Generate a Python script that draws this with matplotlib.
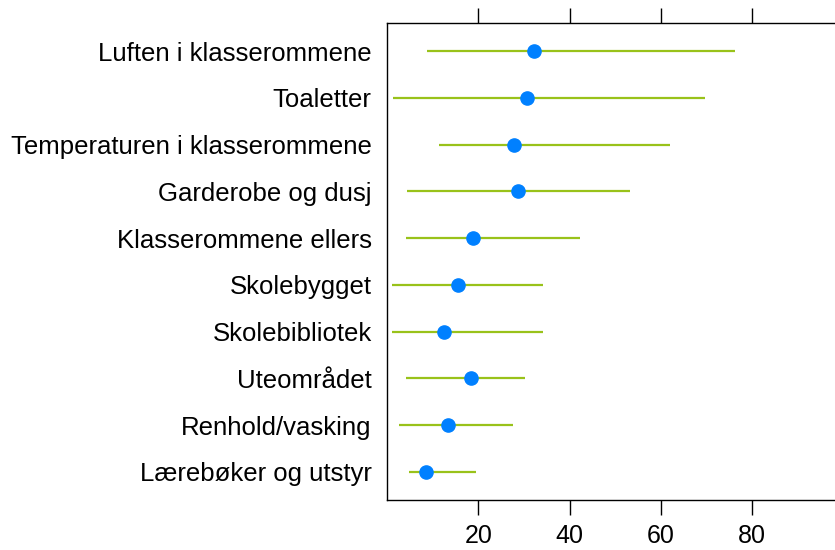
import matplotlib
matplotlib.use("Agg")
import matplotlib.pyplot as plt

# rekkefølge ovenfra og ned
labels = [
    "Luften i klasserommene",
    "Toaletter",
    "Temperaturen i klasserommene",
    "Garderobe og dusj",
    "Klasserommene ellers",
    "Skolebygget",
    "Skolebibliotek",
    "Uteområdet",
    "Renhold/vasking",
    "Lærebøker og utstyr",
]
estimate = [32.3, 30.6, 27.8, 28.8, 18.9, 15.6, 12.4, 18.3, 13.3, 8.5]
lower = [8.7, 1.4, 11.3, 4.4, 4.2, 1.0, 1.0, 4.1, 2.7, 4.9]
upper = [76.2, 69.6, 62.0, 53.2, 42.3, 34.2, 34.1, 30.2, 27.7, 19.6]
xticks = [20, 40, 60, 80]

plt.rcParams["font.family"] = ["Liberation Sans", "DejaVu Sans"]

fig = plt.figure(figsize=(8.35, 5.5), dpi=100)
ax = fig.add_axes([387 / 835, 50 / 550, 456.5 / 835, 477 / 550])

n = len(labels)
ypos = [n - i for i in range(n)]

ax.hlines(ypos, lower, upper, color="#99c21a", linewidth=1.6, zorder=2)
ax.plot(estimate, ypos, "o", color="#0080ff", markersize=9.5, zorder=3)

ax.set_xlim(0, 100)
ax.set_ylim(0.4, n + 0.6)
ax.set_yticks(ypos)
ax.set_yticklabels(labels, fontsize=18.5)
ax.set_xticks(xticks)
ax.set_xticklabels([str(t) for t in xticks], fontsize=18)

ax.tick_params(axis="x", direction="out", length=11, width=1.0,
               top=True, labeltop=False, pad=6)
ax.tick_params(axis="y", length=0, pad=11)
for s in ax.spines.values():
    s.set_linewidth(1.0)

fig.savefig("out.png", dpi=100)
